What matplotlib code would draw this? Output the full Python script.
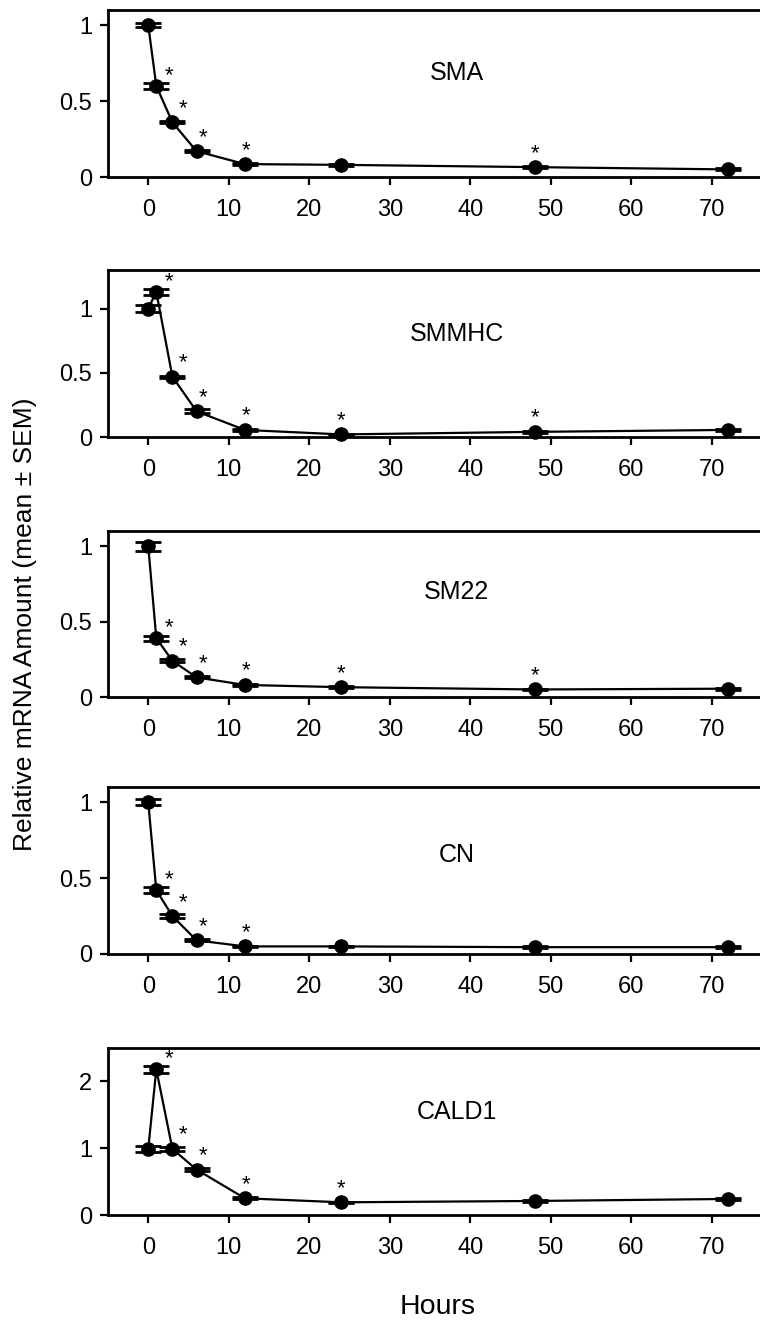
import matplotlib
matplotlib.use("Agg")
import matplotlib.pyplot as plt

plt.rcParams['font.family'] = ['Liberation Sans', 'DejaVu Sans']

hours = [0, 1, 3, 6, 12, 24, 48, 72]
genes = ["SMA", "SMMHC", "SM22", "CN", "CALD1"]

sma_mean = [1.0, 0.60, 0.36, 0.17, 0.085, 0.08, 0.065, 0.05]
sma_sem = [0.015, 0.019, 0.006, 0.006, 0.005, 0.005, 0.005, 0.006]
sma_sig = [0, 1, 1, 1, 1, 0, 1, 0]

smmhc_mean = [1.0, 1.13, 0.47, 0.20, 0.055, 0.02, 0.04, 0.055]
smmhc_sem = [0.03, 0.023, 0.008, 0.016, 0.008, 0.005, 0.005, 0.006]
smmhc_sig = [0, 1, 1, 1, 1, 1, 1, 0]

sm22_mean = [1.0, 0.39, 0.24, 0.13, 0.08, 0.065, 0.05, 0.055]
sm22_sem = [0.03, 0.016, 0.01, 0.006, 0.005, 0.005, 0.005, 0.006]
sm22_sig = [0, 1, 1, 1, 1, 1, 1, 0]

cn_mean = [1.0, 0.42, 0.25, 0.09, 0.05, 0.05, 0.045, 0.045]
cn_sem = [0.018, 0.02, 0.016, 0.006, 0.005, 0.005, 0.005, 0.006]
cn_sig = [0, 1, 1, 1, 1, 0, 0, 0]

cald1_mean = [0.99, 2.18, 0.99, 0.68, 0.25, 0.19, 0.21, 0.24]
cald1_sem = [0.047, 0.055, 0.035, 0.02, 0.012, 0.01, 0.01, 0.012]
cald1_sig = [0, 1, 1, 1, 1, 1, 0, 0]

means = [sma_mean, smmhc_mean, sm22_mean, cn_mean, cald1_mean]
sems = [sma_sem, smmhc_sem, sm22_sem, cn_sem, cald1_sem]
sigs = [sma_sig, smmhc_sig, sm22_sig, cn_sig, cald1_sig]

ylims = [1.1, 1.3, 1.1, 1.1, 2.5]
yticks = [[0, 0.5, 1], [0, 0.5, 1], [0, 0.5, 1], [0, 0.5, 1], [0, 1, 2]]
ytick_labels = [["0", "0.5", "1"]] * 4 + [["0", "1", "2"]]
xticks = [0, 10, 20, 30, 40, 50, 60, 70]

# layout (figure pixel coords of axes top/bottom)
W, H = 760, 1323
tops = [10, 270, 531, 787, 1048]
bottoms = [177, 437, 697, 954, 1215]
label_y = [0.623, 0.617, 0.63, 0.59, 0.617]
star_dx = [0, 9, 8, 5, 0.5, 0, 0, 0]   # points
star_dy = [6, 3.5, 6, 6, 6, 6, 6, 6]   # points (baseline offset)

fig = plt.figure(figsize=(W / 100, H / 100), dpi=100)
left = 108 / W
width = 652 / W

for i in range(5):
    ax = fig.add_axes([left, 1 - bottoms[i] / H, width, (bottoms[i] - tops[i]) / H])
    ax.errorbar(hours, means[i], yerr=sems[i], fmt='-o', color='black',
                lw=1.6, ms=9.5, capsize=9.4, capthick=2, elinewidth=1.6,
                clip_on=False, zorder=3)
    for h, m, sg, dx, dy in zip(hours, means[i], sigs[i], star_dx, star_dy):
        if sg:
            ax.annotate('*', xy=(h, m), xytext=(dx, dy),
                        textcoords='offset points', ha='center', va='baseline',
                        fontsize=16, color='black')
    ax.text(0.535, label_y[i], genes[i], transform=ax.transAxes,
            ha='center', va='center', fontsize=18)
    ax.set_xlim(-5, 76)
    ax.set_ylim(0, ylims[i])
    ax.set_xticks(xticks)
    ax.set_xticklabels([str(t) for t in xticks])
    ax.set_yticks(yticks[i])
    ax.set_yticklabels(ytick_labels[i])
    ax.spines['right'].set_visible(False)
    for sp in ['left', 'bottom', 'top']:
        ax.spines[sp].set_linewidth(2)
    ax.tick_params(axis='both', direction='out', length=5.5, width=1.6,
                   labelsize=17)
    ax.tick_params(axis='x', pad=10)
    ax.tick_params(axis='y', pad=6)

fig.text(25 / W, 1 - 624 / H, "Relative mRNA Amount (mean \u00b1 SEM)",
         rotation=90, ha='center', va='center', fontsize=19)
fig.text(438 / W, 1 - 1307 / H, "Hours", ha='center', va='center', fontsize=20.5)

fig.savefig("out.png", dpi=100)
